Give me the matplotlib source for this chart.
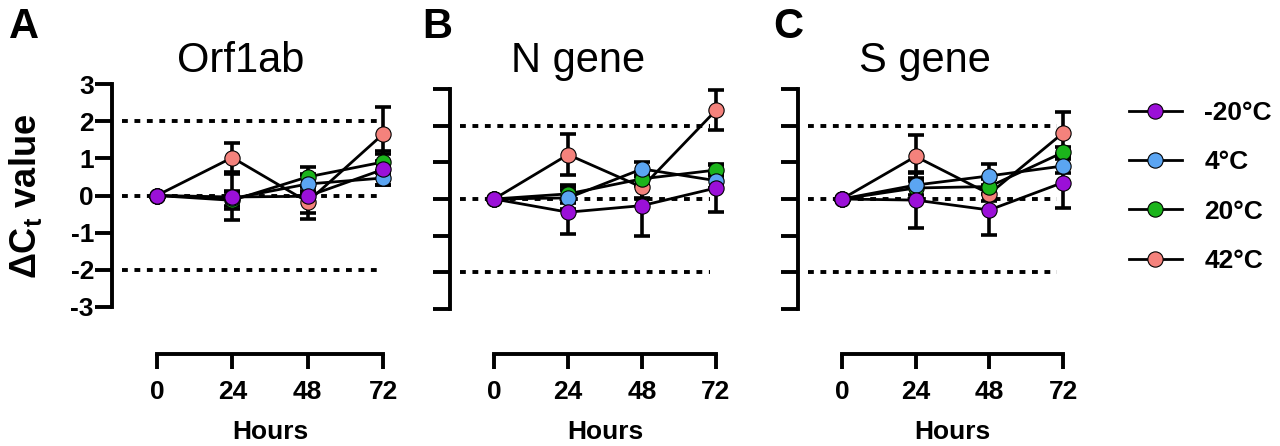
import numpy as np
import matplotlib
matplotlib.use('Agg')
import matplotlib.pyplot as plt
from matplotlib.lines import Line2D

plt.rcParams['font.family'] = ['Liberation Sans', 'DejaVu Sans']
plt.rcParams['font.weight'] = 'bold'
plt.rcParams['axes.unicode_minus'] = False

# data, series order = temps
hours = [0, 24, 48, 72]
temps = ['-20°C', '4°C', '20°C', '42°C']
colors = ['#9B10D8', '#5BA5F2', '#1BB41B', '#F4827C']

orf1ab_mean = [[0, -0.04, -0.02, 0.70],
               [0, -0.08, 0.31, 0.47],
               [0, -0.13, 0.50, 0.90],
               [0, 1.02, -0.17, 1.65]]
orf1ab_sd = [[0, 0.63, 0.60, 0.43],
             [0, 0.20, 0.25, 0.20],
             [0, 0.22, 0.27, 0.30],
             [0, 0.40, 0.30, 0.72]]

ngene_mean = [[0, -0.36, -0.18, 0.30],
              [0, 0.03, 0.82, 0.50],
              [0, 0.14, 0.55, 0.79],
              [0, 1.21, 0.32, 2.42]]
ngene_sd = [[0, 0.60, 0.82, 0.66],
            [0, 0.30, 0.20, 0.20],
            [0, 0.25, 0.20, 0.15],
            [0, 0.56, 0.30, 0.55]]

sgene_mean = [[0, -0.03, -0.30, 0.45],
              [0, 0.38, 0.63, 0.90],
              [0, 0.30, 0.34, 1.27],
              [0, 1.16, 0.14, 1.80]]
sgene_sd = [[0, 0.75, 0.69, 0.70],
            [0, 0.37, 0.33, 0.20],
            [0, 0.20, 0.20, 0.15],
            [0, 0.59, 0.20, 0.56]]

W, H = 1280, 446
fig = plt.figure(figsize=(W/100, H/100), dpi=100)

def rect(l, t, r, b):
    return [l/W, 1-b/H, (r-l)/W, (b-t)/H]

panels = [
    ('A', 'Orf1ab', orf1ab_mean, orf1ab_sd, (112, 84, 383, 307), 24, 241, 270),
    ('B', 'N gene', ngene_mean, ngene_sd, (450, 89, 716, 309), 437, 578, 605),
    ('C', 'S gene', sgene_mean, sgene_sd, (798, 89, 1063, 309), 788, 925, 952),
]

lw_ax = 2.8
for k, (letter, title, means, sds, box, lx, tx, hx) in enumerate(panels):
    ax = fig.add_axes(rect(*box))
    ax.set_xlim(-14.3, 72)
    ax.set_ylim(-3, 3)
    ax.patch.set_alpha(0)
    for s in ['top', 'right']:
        ax.spines[s].set_visible(False)
    ax.spines['left'].set_linewidth(lw_ax)
    ax.spines['bottom'].set_linewidth(lw_ax)
    ax.spines['bottom'].set_position(('outward', (354 - box[3]) * 0.72))
    ax.spines['bottom'].set_bounds(0, 72)
    ax.set_xticks(hours)
    ax.set_yticks(range(-3, 4))
    ax.tick_params(axis='y', length=12, width=lw_ax, labelsize=19, pad=1,
                   labelleft=(k == 0))
    ax.tick_params(axis='x', length=11, width=lw_ax, labelsize=19, pad=8)

    ax.hlines([-2, 0, 2], -11, 70, colors='black', linestyles=(0, (1.5, 1.7)),
              linewidth=2.8, zorder=1)

    order = [3, 2, 1, 0]
    for i in order:
        eb = ax.errorbar(hours, means[i], yerr=sds[i], fmt='none', ecolor='black',
                         elinewidth=2.6, capsize=6, capthick=2.6, zorder=2)
        for art in list(eb.lines[1]) + list(eb.lines[2]):
            art.set_clip_on(False)
    for i in order:
        ax.plot(hours, means[i], '-o', color='black', lw=2.0, mfc=colors[i],
                mec='black', mew=0.8, ms=11, clip_on=False, zorder=3)

    fig.text(lx/W, 1-27/H, letter, ha='center', va='center', fontsize=30, weight='bold')
    fig.text(tx/W, 1-72/H, title, ha='center', va='baseline', fontsize=30, weight='normal')
    fig.text(hx/W, 1-439/H, 'Hours', ha='center', va='baseline', fontsize=19, weight='bold')

fig.text(26/W, 1-196/H, 'ΔC$_\\mathregular{t}$ value', rotation=90, ha='center',
         va='center', fontsize=26, weight='bold')

handles = [Line2D([], [], color='black', lw=2.0, marker='o', mfc=c, mec='black',
                  mew=0.8, ms=11) for c in colors]
fig.legend(handles, temps, loc='upper left', bbox_to_anchor=(1129/W, 1-101/H),
           frameon=False, handlelength=2.0, handletextpad=0.85, labelspacing=0.96,
           borderpad=0, borderaxespad=0, prop={'weight': 'bold', 'size': 19})

fig.savefig('out.png', dpi=100)
